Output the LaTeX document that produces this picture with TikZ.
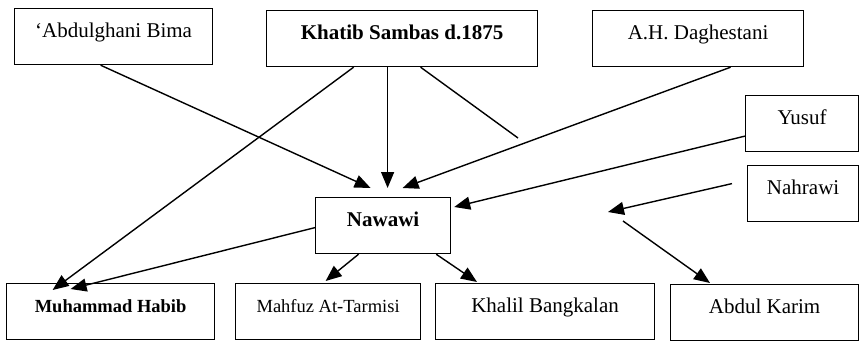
\documentclass[tikz,border=0pt]{standalone}
\usepackage{fontspec}
\setmainfont{Liberation Serif}
\usetikzlibrary{arrows.meta}

\tikzset{
  person/.style={draw=black, line width=1.2pt, anchor=north west, inner sep=0pt,
    text height=29pt, text depth=27pt, font=\fontsize{21}{25}\selectfont},
  smallname/.style={font=\fontsize{18.5}{22}\selectfont},
  link/.style={black, line width=1.4pt, -{Triangle[length=16pt,width=13pt]}},
  plainlink/.style={black, line width=1.4pt}
}

\begin{document}
\begin{tikzpicture}[x=1pt,y=-1pt]
\useasboundingbox (0,0) rectangle (859,341);

% guru-guru
\node[person, minimum width=198pt] (bima) at (14,8) {`Abdulghani Bima};
\node[person, minimum width=271pt] (khatib) at (266,10) {\textbf{Khatib Sambas d.1875}};
\node[person, minimum width=211pt] (dagh) at (592,10) {A.H. Daghestani};
\node[person, minimum width=113pt] (yusuf) at (745,95) {Yusuf};
\node[person, minimum width=111pt] (nahrawi) at (747,165) {Nahrawi};

\node[person, minimum width=135pt] (nawawi) at (315,197) {\textbf{Nawawi}};

% murid-murid
\node[person, smallname, minimum width=208pt] (habib) at (6,283) {\textbf{Muhammad Habib}};
\node[person, smallname, minimum width=185pt] (mahfuz) at (235,283) {Mahfuz At-Tarmisi};
\node[person, minimum width=219pt] (khalil) at (435,283) {Khalil Bangkalan};
\node[person, minimum width=188pt] (karim) at (670,284) {Abdul Karim};

\coordinate (loose1) at (518,138);
\coordinate (loose2) at (608,212);
\coordinate (loose3) at (623,221);

\draw[link] ([xshift=-13pt]bima.south) -- ([xshift=-12.5pt,yshift=9pt]nawawi.north);
\draw[link] ([xshift=-48.5pt]khatib.south) -- ([xshift=-58pt,yshift=-7pt]habib.north);
\draw[link] ([xshift=-14.5pt]khatib.south) -- ([xshift=4.5pt,yshift=9pt]nawawi.north);
\draw[plainlink] ([xshift=18.5pt]khatib.south) -- (loose1);
\draw[link] ([xshift=32.5pt]dagh.south) -- ([xshift=19.5pt,yshift=9pt]nawawi.north);
\draw[link] ([yshift=-12.5pt]yusuf.west) -- ([xshift=3pt,yshift=-10pt]nawawi.north east);

\draw[link] ([yshift=-2pt]nawawi.west) -- ([xshift=-40pt,yshift=-6pt]habib.north);
\draw[link] ([xshift=-24.5pt]nawawi.south) -- ([xshift=-2.5pt,yshift=2pt]mahfuz.north);
\draw[link] ([xshift=-15pt]nawawi.south east) -- ([xshift=42pt,yshift=1pt]khalil.north west);

\draw[link] ([xshift=-15pt,yshift=10pt]nahrawi.west) -- (loose2);
\draw[link] (loose3) -- ([xshift=40pt,yshift=1pt]karim.north west);

\end{tikzpicture}
\end{document}
